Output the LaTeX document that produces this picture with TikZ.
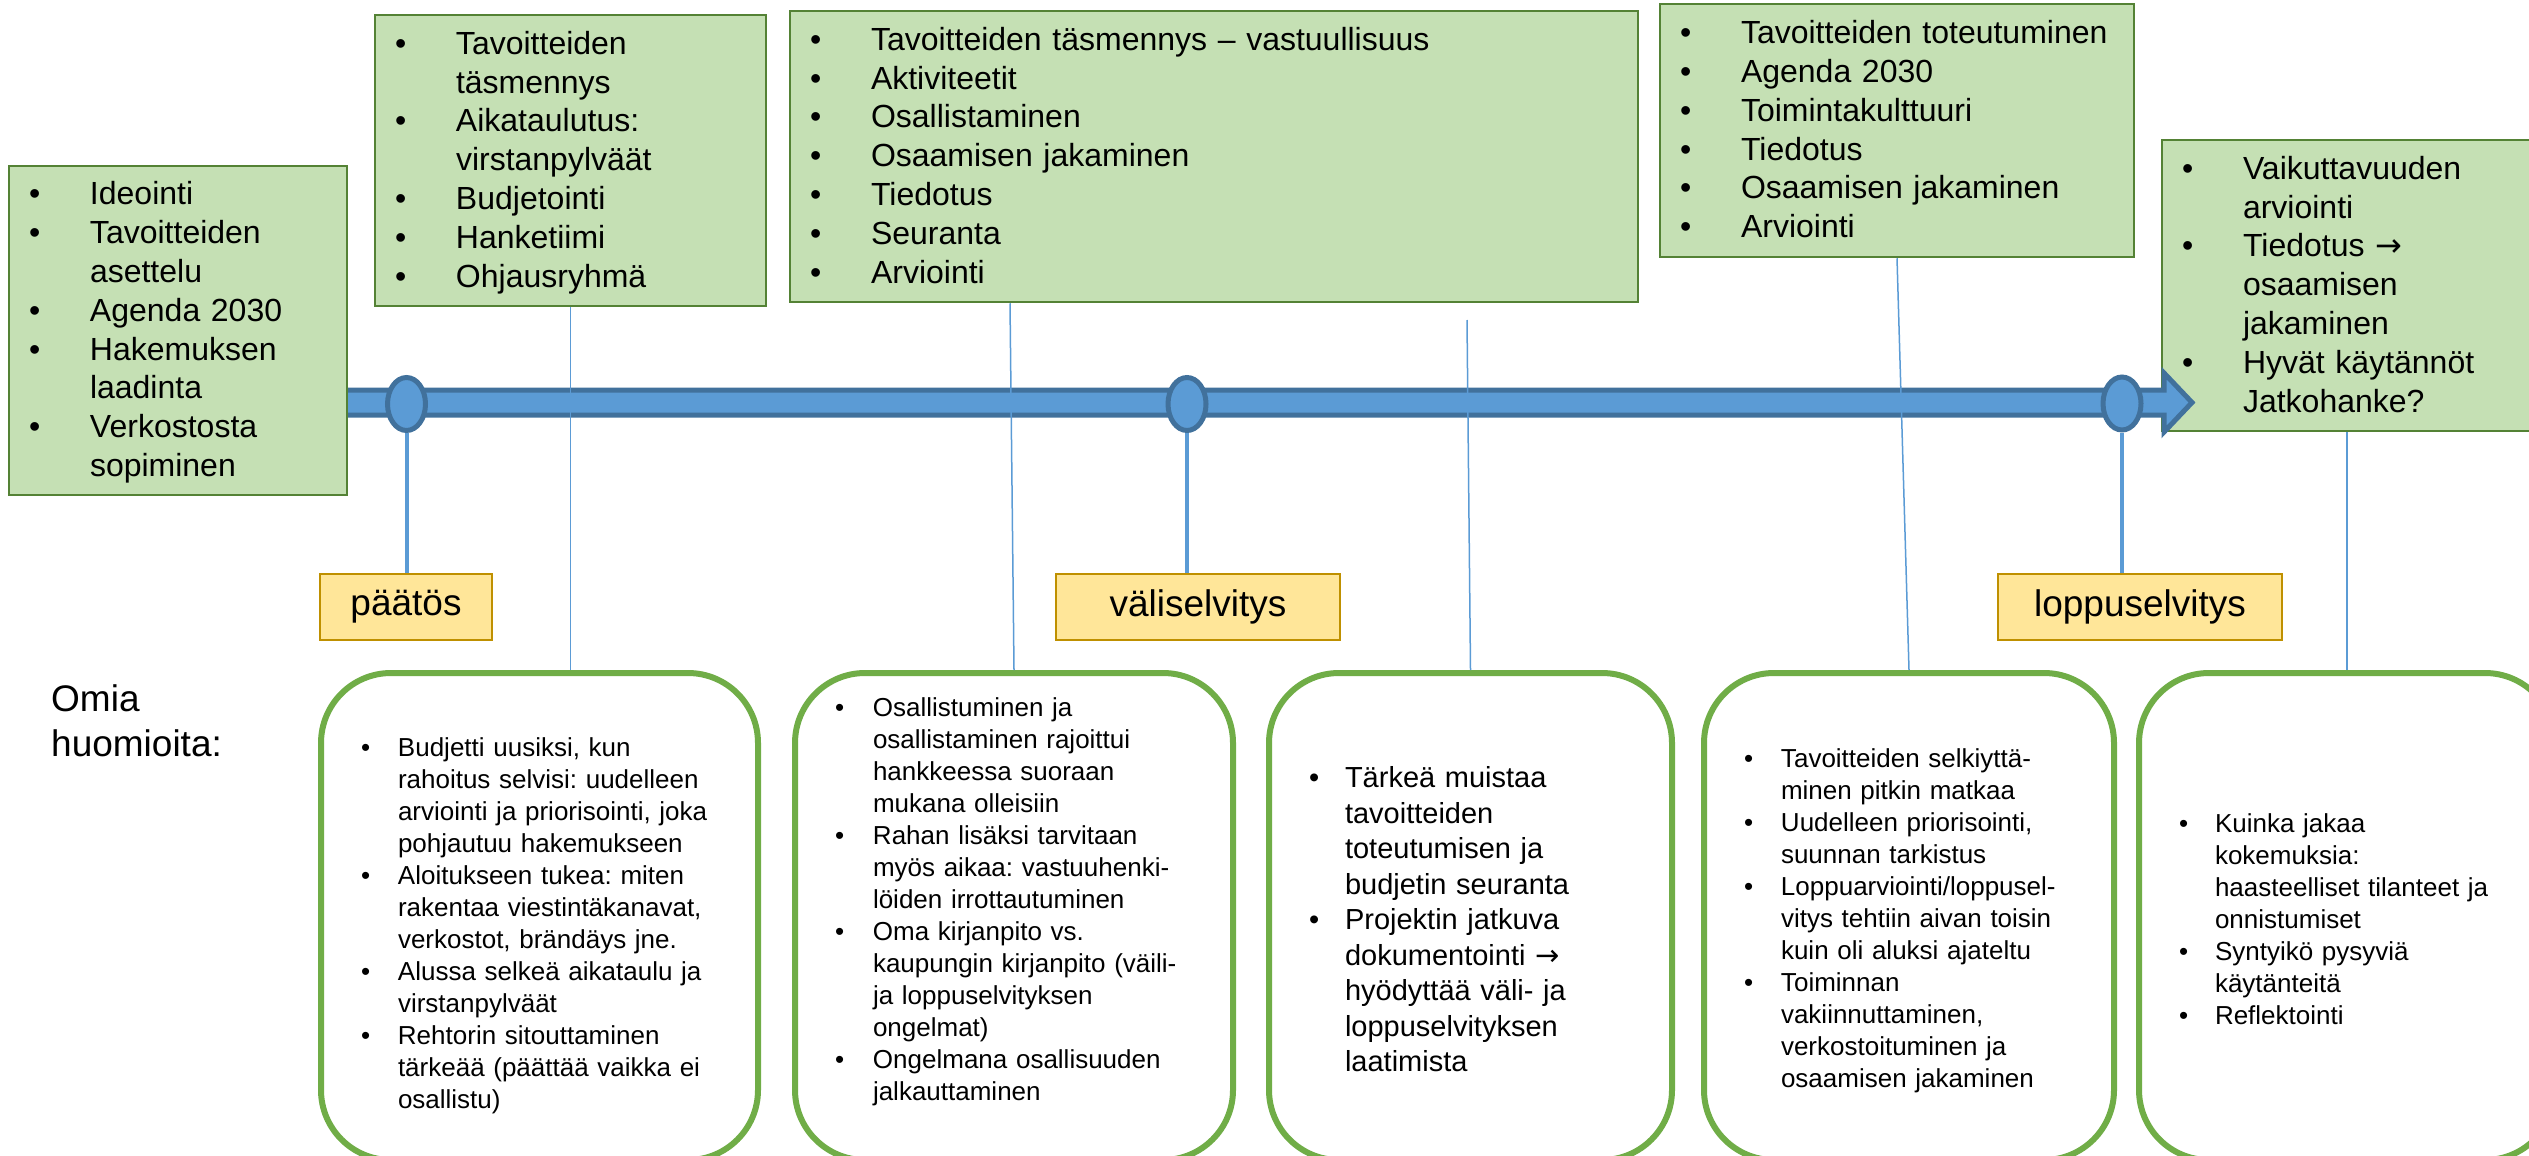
\documentclass[tikz,border=0pt]{standalone}
\usepackage{fontspec}
\setmainfont{Liberation Sans}
\newfontfamily\arrowfont{DejaVu Sans}
\usetikzlibrary{shapes.geometric}
\definecolor{lightgreen}{HTML}{C5E0B4}
\definecolor{boxgreen}{HTML}{548235}
\definecolor{notegreen}{HTML}{70AD47}
\definecolor{phasefill}{HTML}{FFE699}
\definecolor{phaseedge}{HTML}{BF9000}
\definecolor{arrowblue}{HTML}{5B9BD5}
\definecolor{arrowedge}{HTML}{41719C}
\frenchspacing
\newcommand{\bu}{\textbullet}
\newcommand{\ar}{{\arrowfont →}}
\newcommand{\topfont}{\fontsize{32}{38.8}\selectfont}
\newcommand{\notefont}{\fontsize{26}{32}\selectfont}
\newcommand{\bignotefont}{\fontsize{29}{35.5}\selectfont}
\newcommand{\phasefont}{\fontsize{37}{44}\selectfont}
\newcommand{\toplist}[1]{\begin{tabular}{@{}p{61pt}@{}l@{}}\rule{0pt}{32pt}\ignorespaces#1\end{tabular}}
\newcommand{\notelist}[3]{\begin{tabular}{@{}p{#2}@{}l@{}}\rule{0pt}{#1}\ignorespaces#3\end{tabular}}

\begin{document}
\begin{tikzpicture}[x=1pt,y=-1pt]
    \tikzstyle{topbox}=[draw=boxgreen, fill=lightgreen, line width=2.5pt, inner xsep=20pt, inner ysep=0pt, align=left, font=\topfont]
    \tikzstyle{notebox}=[draw=notegreen, fill=white, line width=6pt, rounded corners=70pt, inner xsep=40pt, inner ysep=0pt, align=left, minimum height=487pt, font=\notefont]
    \tikzstyle{phase}=[draw=phaseedge, fill=phasefill, line width=2.5pt, minimum height=66pt, font=\phasefont]
    \tikzstyle{milestone}=[ellipse, draw=arrowedge, fill=arrowblue, line width=5pt, minimum width=38pt, minimum height=53pt, inner sep=0pt]
    \tikzstyle{stem}=[draw=arrowblue, line width=4pt]
    \tikzstyle{guide}=[draw=arrowblue, line width=1.5pt]

    \useasboundingbox (0,0) rectangle (2529,1156);
    \clip (0,0) rectangle (2529,1156);

    \node[topbox, minimum width=370pt, minimum height=291pt, text width=330pt] (b5) at (2347,285.5) {\toplist{
        \bu & Vaikuttavuuden\\
            & arviointi\\
        \bu & Tiedotus \ar\\
            & osaamisen\\
            & jakaminen\\
        \bu & Hyvät käytännöt\\
            & Jatkohanke?}};

    \draw[line width=5pt, draw=arrowedge, fill=arrowblue] (340,390) -- (2164,390) -- (2164,373) -- (2192,402.5) -- (2164,432) -- (2164,415) -- (340,415) -- cycle;

    \node[topbox, minimum width=338pt, minimum height=329pt, text width=298pt] (b1) at (178,330.5) {\toplist{
        \bu & Ideointi\\
        \bu & Tavoitteiden\\
            & asettelu\\
        \bu & Agenda 2030\\
        \bu & Hakemuksen\\
            & laadinta\\
        \bu & Verkostosta\\
            & sopiminen}};
    \node[topbox, minimum width=391pt, minimum height=291pt, text width=351pt] (b2) at (570.5,160.5) {\toplist{
        \bu & Tavoitteiden\\
            & täsmennys\\
        \bu & Aikataulutus:\\
            & virstanpylväät\\
        \bu & Budjetointi\\
        \bu & Hanketiimi\\
        \bu & Ohjausryhmä}};
    \node[topbox, minimum width=848pt, minimum height=291pt, text width=808pt] (b3) at (1214,156.5) {\toplist{
        \bu & Tavoitteiden täsmennys – vastuullisuus\\
        \bu & Aktiviteetit\\
        \bu & Osallistaminen\\
        \bu & Osaamisen jakaminen\\
        \bu & Tiedotus\\
        \bu & Seuranta\\
        \bu & Arviointi}};
    \node[topbox, minimum width=474pt, minimum height=253pt, text width=434pt] (b4) at (1897,130.5) {\toplist{
        \bu & Tavoitteiden toteutuminen\\
        \bu & Agenda 2030\\
        \bu & Toimintakulttuuri\\
        \bu & Tiedotus\\
        \bu & Osaamisen jakaminen\\
        \bu & Arviointi}};

    \node[milestone] (e1) at (406.5,404) {};
    \node[milestone] (e2) at (1187,404) {};
    \node[milestone] (e3) at (2122,403.5) {};

    \node[phase, minimum width=172pt] (y1) at (406,607) {päätös};
    \node[phase, minimum width=284pt] (y2) at (1198,607) {väliselvitys};
    \node[phase, minimum width=284pt] (y3) at (2140,607) {loppuselvitys};

    \node[anchor=west, align=left, inner sep=0pt, font=\fontsize{37}{45}\selectfont] (omia) at (51,721) {Omia\\huomioita:};

    \node[notebox, minimum width=437pt, text width=357pt] (n1) at (539.5,916.5) {\notelist{42pt}{37pt}{
        \bu & Budjetti uusiksi, kun\\
            & rahoitus selvisi: uudelleen\\
            & arviointi ja priorisointi, joka\\
            & pohjautuu hakemukseen\\
        \bu & Aloitukseen tukea: miten\\
            & rakentaa viestintäkanavat,\\
            & verkostot, brändäys jne.\\
        \bu & Alussa selkeä aikataulu ja\\
            & virstanpylväät\\
        \bu & Rehtorin sitouttaminen\\
            & tärkeää (päättää vaikka ei\\
            & osallistu)}};
    \node[notebox, minimum width=438pt, text width=358pt] (n2) at (1014,916.5) {\notelist{0pt}{38pt}{
        \bu & Osallistuminen ja\\
            & osallistaminen rajoittui\\
            & hankkeessa suoraan\\
            & mukana olleisiin\\
        \bu & Rahan lisäksi tarvitaan\\
            & myös aikaa: vastuuhenki-\\
            & löiden irrottautuminen\\
        \bu & Oma kirjanpito vs.\\
            & kaupungin kirjanpito (väili-\\
            & ja loppuselvityksen\\
            & ongelmat)\\
        \bu & Ongelmana osallisuuden\\
            & jalkauttaminen\rule[-38pt]{0pt}{1pt}}};
    \node[notebox, minimum width=403pt, text width=323pt, font=\bignotefont] (n3) at (1470.5,916.5) {\notelist{37pt}{36pt}{
        \bu & Tärkeä muistaa\\
            & tavoitteiden\\
            & toteutumisen ja\\
            & budjetin seuranta\\
        \bu & Projektin jatkuva\\
            & dokumentointi \ar\\
            & hyödyttää väli- ja\\
            & loppuselvityksen\\
            & laatimista}};
    \node[notebox, minimum width=410pt, text width=330pt] (n4) at (1909,916.5) {\notelist{31pt}{37pt}{
        \bu & Tavoitteiden selkiyttä-\\
            & minen pitkin matkaa\\
        \bu & Uudelleen priorisointi,\\
            & suunnan tarkistus\\
        \bu & Loppuarviointi/loppusel-\\
            & vitys tehtiin aivan toisin\\
            & kuin oli aluksi ajateltu\\
        \bu & Toiminnan\\
            & vakiinnuttaminen,\\
            & verkostoituminen ja\\
            & osaamisen jakaminen}};
    \node[notebox, minimum width=416pt, text width=336pt] (n5) at (2347,916.5) {\notelist{34pt}{36pt}{
        \bu & Kuinka jakaa\\
            & kokemuksia:\\
            & haasteelliset tilanteet ja\\
            & onnistumiset\\
        \bu & Syntyikö pysyviä\\
            & käytänteitä\\
        \bu & Reflektointi}};

    \coordinate (c3) at (1467,320);
    \draw[guide] (b2.south) -- (b2.south |- n1.north);
    \draw[guide] ([xshift=-204pt]b3.south) -- (n2.north);
    \draw[guide] (c3) -- (n3.north);
    \draw[guide] (b4.south) -- (n4.north);
    \draw[guide] (b5.south) -- (n5.north);

    \draw[stem] (e1.south) -- (e1.south |- y1.north);
    \draw[stem] (e2.south) -- (e2.south |- y2.north);
    \draw[stem] (e3.south) -- (e3.south |- y3.north);
\end{tikzpicture}
\end{document}
